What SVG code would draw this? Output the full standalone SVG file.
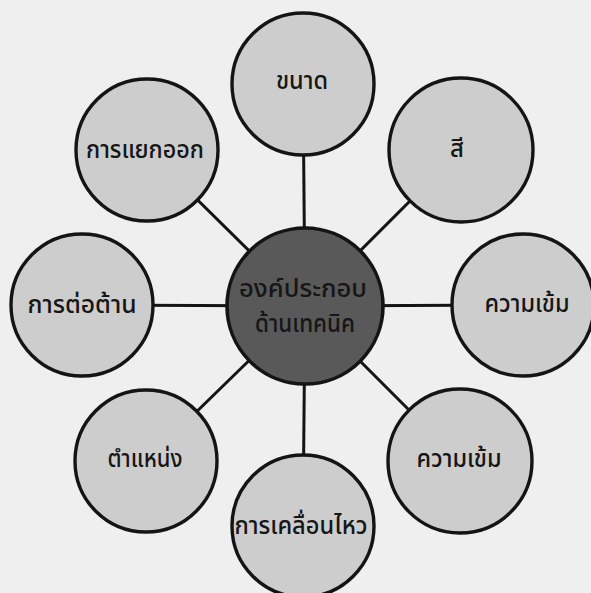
<svg xmlns="http://www.w3.org/2000/svg" width="591" height="593" viewBox="0 0 591 593">
  <style>
    .bg { fill: #efefef; }
    .node { fill: #cdcdcd; stroke: #141414; stroke-width: 3.4; }
    .hub { fill: #595959; stroke: #141414; stroke-width: 3.6; }
    .conn line { stroke: #141414; stroke-width: 3; }
    text { font-family: "Noto Sans Thai", "Noto Sans", "DejaVu Sans", sans-serif; font-size: 24px; font-weight: 500; fill: #161616; text-anchor: middle; }
  </style>
  <rect class="bg" x="0" y="0" width="591" height="593"/>
  <g id="connectors" class="conn">
    <line x1="305" y1="306" x2="303" y2="84"/>
    <line x1="305" y1="306" x2="461" y2="150"/>
    <line x1="305" y1="306" x2="523" y2="305"/>
    <line x1="305" y1="306" x2="460" y2="461"/>
    <line x1="305" y1="306" x2="303" y2="526"/>
    <line x1="305" y1="306" x2="146" y2="461"/>
    <line x1="305" y1="306" x2="82" y2="305"/>
    <line x1="305" y1="306" x2="147" y2="150"/>
  </g>
  <g id="node-size">
    <circle class="node" cx="303" cy="84" r="71"/>
    <text x="302" y="89" textLength="52" lengthAdjust="spacingAndGlyphs">ขนาด</text>
  </g>
  <g id="node-color">
    <circle class="node" cx="461" cy="150" r="72"/>
    <text x="457" y="157">สี</text>
  </g>
  <g id="node-intensity-right">
    <circle class="node" cx="523" cy="305" r="71"/>
    <text x="527" y="312" textLength="85" lengthAdjust="spacingAndGlyphs">ความเข้ม</text>
  </g>
  <g id="node-intensity-lower">
    <circle class="node" cx="460" cy="461" r="72"/>
    <text x="459" y="467" textLength="85" lengthAdjust="spacingAndGlyphs">ความเข้ม</text>
  </g>
  <g id="node-movement">
    <circle class="node" cx="303" cy="526" r="71"/>
    <text x="301" y="534" textLength="133" lengthAdjust="spacingAndGlyphs">การเคลื่อนไหว</text>
  </g>
  <g id="node-position">
    <circle class="node" cx="146" cy="461" r="71"/>
    <text x="145" y="467" textLength="75" lengthAdjust="spacingAndGlyphs">ตำแหน่ง</text>
  </g>
  <g id="node-resistance">
    <circle class="node" cx="82" cy="305" r="71"/>
    <text x="82" y="313" textLength="109" lengthAdjust="spacingAndGlyphs">การต่อต้าน</text>
  </g>
  <g id="node-separation">
    <circle class="node" cx="147" cy="150" r="71"/>
    <text x="145" y="158" textLength="118" lengthAdjust="spacingAndGlyphs">การแยกออก</text>
  </g>
  <g id="node-hub">
    <circle class="hub" cx="305" cy="306" r="78"/>
    <text x="303" y="297" textLength="128" lengthAdjust="spacingAndGlyphs">องค์ประกอบ</text>
    <text x="305" y="332" textLength="100" lengthAdjust="spacingAndGlyphs">ด้านเทคนิค</text>
  </g>
</svg>
